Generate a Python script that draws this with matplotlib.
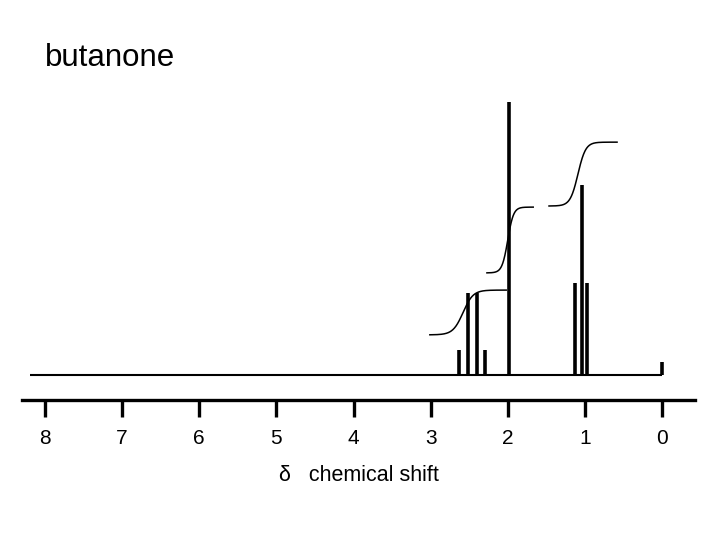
import numpy as np
import matplotlib
matplotlib.use('Agg')
from matplotlib import pyplot as plt

plt.rcParams['font.family'] = ['Liberation Sans', 'DejaVu Sans']

# peaks: chemical shift (ppm) and relative height (singlet = 1)
quartet_ppm = [2.63, 2.52, 2.40, 2.29]
quartet_h = [0.092, 0.30, 0.30, 0.092]
singlet_ppm = [1.99]
singlet_h = [1.0]
triplet_ppm = [1.13, 1.04, 0.97]
triplet_h = [0.337, 0.696, 0.337]
tms_ppm = [0.0]
tms_h = [0.048]

baseline_start = 8.2
baseline_end = 0.0

# integral traces: start ppm, end ppm, step centre, step width, low level, high level
int_start = [3.01, 2.27, 1.465]
int_end = [2.02, 1.67, 0.583]
int_centre = [2.58, 2.00, 1.09]
int_width = [0.13, 0.074, 0.10]
int_low = [0.147, 0.374, 0.619]
int_high = [0.311, 0.615, 0.853]

ticks = [8, 7, 6, 5, 4, 3, 2, 1, 0]

fig = plt.figure(figsize=(7.2, 5.4), dpi=100)
ax = fig.add_axes([0.0306, 0.2593, 0.9347, 0.574])

# baseline of the spectrum
ax.plot([baseline_start, baseline_end], [0, 0], c='black', lw=1.5, solid_capstyle='butt')

# peak lines
all_ppm = quartet_ppm + singlet_ppm + triplet_ppm + tms_ppm
all_h = quartet_h + singlet_h + triplet_h + tms_h
ax.vlines(all_ppm, 0, all_h, colors='black', lw=2.6)

# integral traces
for s, e, c, w, lo, hi in zip(int_start, int_end, int_centre, int_width, int_low, int_high):
    x = np.linspace(s, e, 200)
    y = lo + (hi - lo) * 0.5 * (1 + np.tanh((c - x) / w))
    ax.plot(x, y, c='black', lw=1.1)

ax.set_xlim(8.298, -0.428)
ax.set_ylim(-0.0916, 1.044)

for side in ['top', 'left', 'right']:
    ax.spines[side].set_visible(False)
ax.spines['bottom'].set_linewidth(2.4)
ax.set_yticks([])
ax.set_xticks(ticks)
ax.set_xticklabels([str(t) for t in ticks])
ax.tick_params(axis='x', direction='out', length=12, width=2.4, labelsize=15, pad=9)
ax.set_xlabel('δ   chemical shift', fontsize=15.5, labelpad=12)

fig.text(0.0625, 0.878, 'butanone', fontsize=22.5, va='baseline', ha='left')

plt.savefig('out.png', dpi=100)
